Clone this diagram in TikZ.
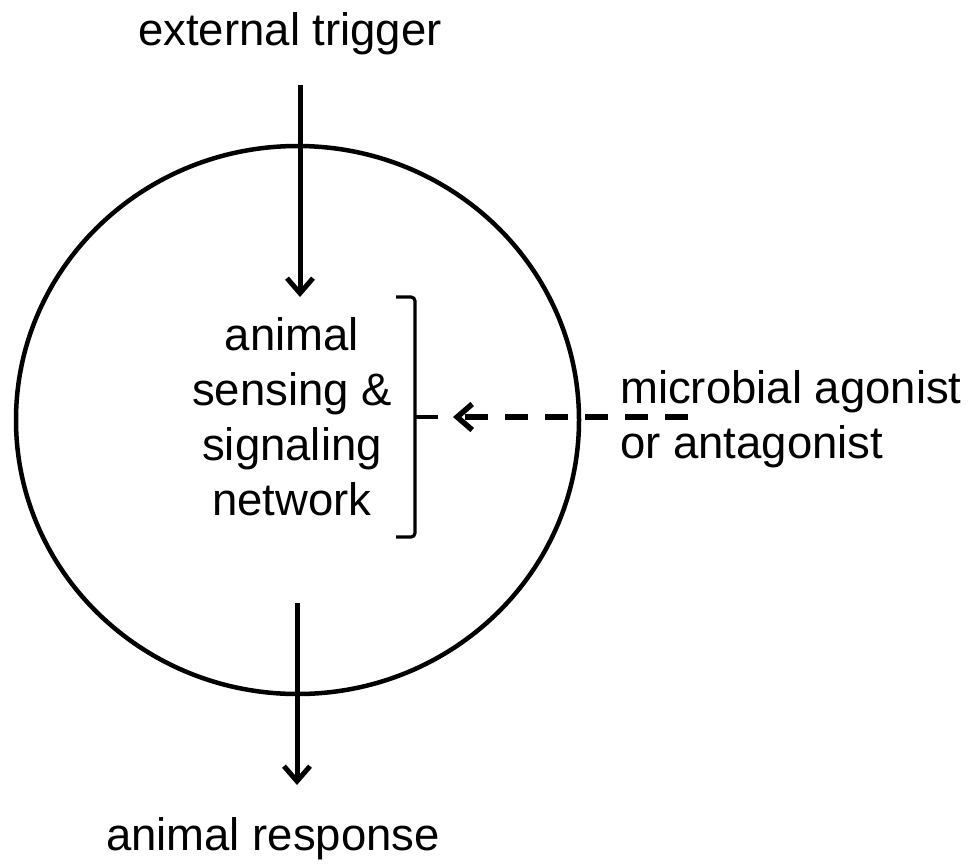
\documentclass[tikz,border=0pt]{standalone}
\usepackage{fontspec}
\setmainfont{Liberation Sans}
\usetikzlibrary{arrows.meta,shapes.geometric}
\begin{document}
\begin{tikzpicture}[x=1pt,y=-1pt,
  lbl/.style={font=\fontsize{45.5}{55}\selectfont, inner sep=0pt},
  arr/.style={line width=5pt, -{Straight Barb[length=15pt,width=26pt]}},
  darr/.style={line width=5.5pt, dash pattern=on 23pt off 17pt, -{Straight Barb[length=15pt,width=26pt]}},
  brace/.style={line width=3.2pt, rounded corners=4pt},
  cellshape/.style={draw, ellipse, line width=4.5pt, inner sep=0pt, minimum width=563pt, minimum height=548pt}]
\useasboundingbox (0,0) rectangle (972,863);
\node[cellshape] (cell) at (297.5,420) {};
\node[lbl, anchor=base] (trig) at (290,45) {external trigger};
\node[lbl, anchor=base] (resp) at (273,850) {animal response};
\node[lbl, anchor=base west, align=left] (mic) at (620,458) {microbial agonist\\or antagonist};
\node[lbl, anchor=base, align=center] (net) at (292,515) {animal\\sensing \&\\signaling\\network};
\coordinate (t0) at (300,85);
\coordinate (t1) at (300,297);
\coordinate (b0) at (297,603);
\coordinate (b1) at (297,785);
\coordinate (d0) at (688,417);
\coordinate (d1) at (453,417);
\coordinate (bt) at (415,417);
\coordinate (bm) at (438,417);
\draw[arr] (t0) -- (t1);
\draw[arr] (b0) -- (b1);
\draw[brace] (396,297) -- (415,297) -- (415,537) -- (396,537);
\draw[line width=3.2pt] (bt) -- (bm);
\draw[darr] (d0) -- (d1);
\end{tikzpicture}
\end{document}
